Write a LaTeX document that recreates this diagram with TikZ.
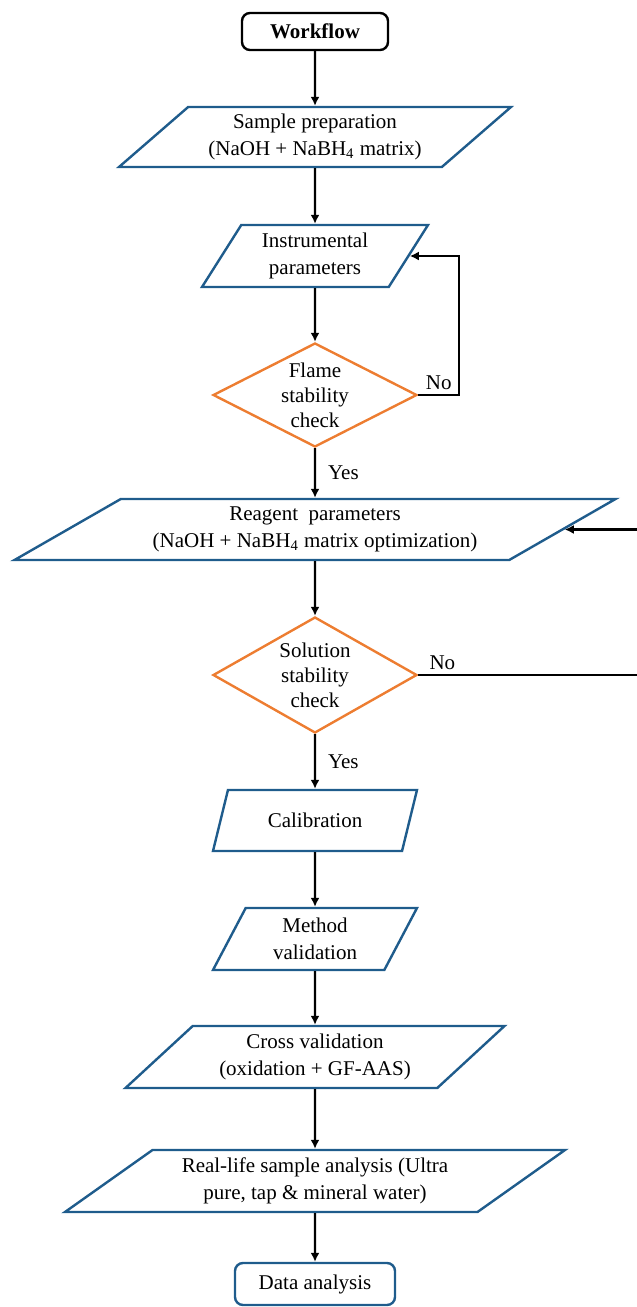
\documentclass[tikz,border=0pt]{standalone}
\usepackage{fontspec}
\setmainfont{Liberation Serif}
\usepackage{tikz}
\usetikzlibrary{arrows.meta,positioning,shapes.geometric,calc}
\definecolor{boxblue}{RGB}{31,92,140}
\definecolor{checkorange}{RGB}{237,125,49}

\begin{document}
\begin{tikzpicture}[x=0.5pt,y=-0.5pt,font=\fontsize{10.5}{12.5}\selectfont,
  every node/.style={align=center},
  io/.style n args={3}{trapezium, trapezium left angle=#2, trapezium right angle=#3,
    trapezium stretches body, draw=boxblue, line width=1.2pt, inner sep=2pt, minimum width=#1,
    font=\fontsize{10.5}{13.5}\selectfont},
  check/.style={diamond, draw=checkorange, line width=1.2pt, aspect=1.95, inner sep=0pt, minimum width=102pt},
  term/.style={rounded corners=4pt, draw, line width=1.2pt, minimum width=73pt, minimum height=18.5pt},
  arr/.style={-{Latex[length=4.5pt,width=4.5pt]}, line width=1.1pt},
  lbl/.style={inner sep=2pt}]
  % 1 unit = 1 px of the 637x1307 sheet, y grows downwards; column axis at x=315
  \useasboundingbox (0,0) rectangle (637,1307);
  \node[term, font=\fontsize{10.5}{12.5}\selectfont\bfseries] (wf) at (315,31.5) {Workflow};
  \node[io={196pt}{38}{142}, minimum height=30pt] (prep) at (315,137)
    {Sample preparation\\(NaOH + NaBH\textsubscript{4} matrix)};
  \node[io={113pt}{54}{126}, minimum height=31pt] (inst) at (315,256) {Instrumental\\parameters};
  \node[check, minimum height=52pt] (flame) at (315,395) {Flame\\stability\\check};
  \node[io={300.5pt}{26.6}{153.4}, minimum height=30.5pt] (reagent) at (315,529.5)
    {Reagent\ \ parameters\\(NaOH + NaBH\textsubscript{4} matrix optimization)};
  \node[check, minimum height=58pt] (sol) at (315,675) {Solution\\stability\\check};
  \node[io={102pt}{56.7}{123.3}, minimum height=30.5pt] (cal) at (315,820.5) {Calibration};
  \node[io={102pt}{56.7}{123.3}, minimum height=31pt] (meth) at (315,939) {Method\\validation};
  \node[io={189.5pt}{38.8}{141.2}, minimum height=31pt] (cross) at (315,1057)
    {Cross validation\\(oxidation + GF-AAS)};
  \node[io={250pt}{31.8}{148.2}, minimum height=31pt] (real) at (315,1181)
    {Real-life sample analysis (Ultra\\pure, tap \& mineral water)};
  \node[term, draw=boxblue, minimum width=80pt, minimum height=21pt] (data) at (315,1284) {Data analysis};
  % main flow
  \draw[arr] (wf) -- (prep);
  \draw[arr] (prep) -- (inst);
  \draw[arr] (inst) -- (flame);
  \draw[arr] (flame) -- node[lbl,right=4pt] {Yes} (reagent);
  \draw[arr] (reagent) -- (sol);
  \draw[arr] (sol) -- node[lbl,right=4pt] {Yes} (cal);
  \draw[arr] (cal) -- (meth);
  \draw[arr] (meth) -- (cross);
  \draw[arr] (cross) -- (real);
  \draw[arr] (real) -- (data);
  % loops back (the second one runs along the sheet edge)
  \coordinate (edge) at (638,0);
  \draw[arr] (flame.east) -- node[lbl,above] {No} ++(41,0) |- (inst.east);
  \draw[arr] (sol.east) -- node[lbl,above,pos=0.11] {No} (sol.east -| edge) |- (reagent.east);
\end{tikzpicture}
\end{document}
